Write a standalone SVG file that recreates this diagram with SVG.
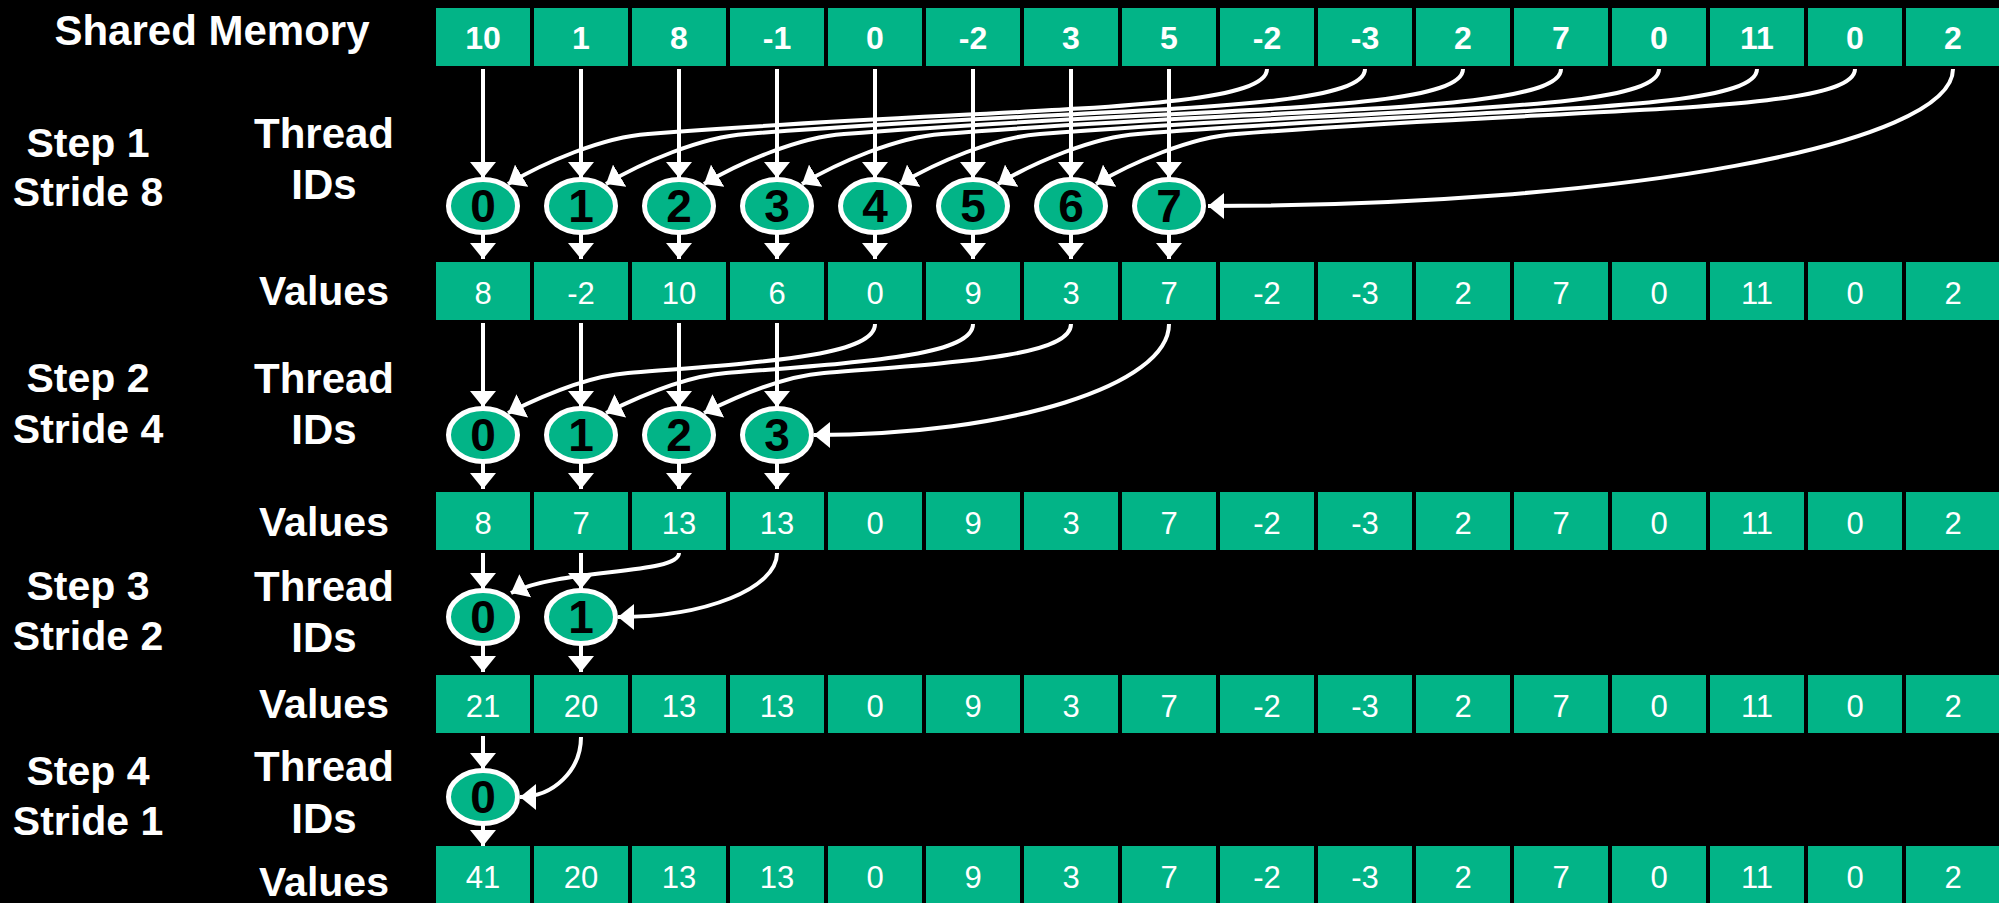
<svg xmlns="http://www.w3.org/2000/svg" width="1999" height="903" viewBox="0 0 1999 903">
<style>
.bg{fill:#000}
.c{fill:#02B487}
.tv{font-family:"Liberation Sans",Arial,sans-serif;font-size:31px;fill:#fff;text-anchor:middle}
.ts{font-family:"Liberation Sans",Arial,sans-serif;font-size:32px;font-weight:bold;fill:#fff;text-anchor:middle}
.n{fill:#02B487;stroke:#fff;stroke-width:5}
.nt{font-family:"Liberation Sans",Arial,sans-serif;font-size:46px;font-weight:bold;fill:#000;text-anchor:middle}
.lb{font-family:"Liberation Sans",Arial,sans-serif;font-size:42px;font-weight:bold;fill:#fff;text-anchor:middle}
.ls{font-family:"Liberation Sans",Arial,sans-serif;font-size:41px;font-weight:bold;fill:#fff;text-anchor:middle}
.a{fill:none;stroke:#fff;stroke-width:4;marker-end:url(#ah)}
</style>
<defs>
<marker id="ah" viewBox="0 0 16 26" markerWidth="16" markerHeight="26" refX="16" refY="13" orient="auto" markerUnits="userSpaceOnUse"><path d="M0,0 L16,13 L0,26 Z" fill="#fff"/></marker>
</defs>
<rect class="bg" x="0" y="0" width="1999" height="903"/>

<g id="labels">
<text class="lb" x="212" y="45">Shared Memory</text>
<text class="ls" x="88" y="157">Step 1</text>
<text class="ls" x="88" y="206">Stride 8</text>
<text class="lb" x="324" y="148">Thread</text>
<text class="lb" x="324" y="199">IDs</text>
<text class="ls" x="324" y="305">Values</text>
<text class="ls" x="88" y="392">Step 2</text>
<text class="ls" x="88" y="443">Stride 4</text>
<text class="lb" x="324" y="393">Thread</text>
<text class="lb" x="324" y="444">IDs</text>
<text class="ls" x="324" y="536">Values</text>
<text class="ls" x="88" y="600">Step 3</text>
<text class="ls" x="88" y="650">Stride 2</text>
<text class="lb" x="324" y="601">Thread</text>
<text class="lb" x="324" y="652">IDs</text>
<text class="ls" x="324" y="718">Values</text>
<text class="ls" x="88" y="785">Step 4</text>
<text class="ls" x="88" y="835">Stride 1</text>
<text class="lb" x="324" y="781">Thread</text>
<text class="lb" x="324" y="833">IDs</text>
<text class="ls" x="324" y="896">Values</text>
</g>

<g id="shared-memory">
<g id="sm-0"><rect class="c" x="436" y="8" width="94" height="58"/><text class="ts" x="483" y="49">10</text></g>
<g id="sm-1"><rect class="c" x="534" y="8" width="94" height="58"/><text class="ts" x="581" y="49">1</text></g>
<g id="sm-2"><rect class="c" x="632" y="8" width="94" height="58"/><text class="ts" x="679" y="49">8</text></g>
<g id="sm-3"><rect class="c" x="730" y="8" width="94" height="58"/><text class="ts" x="777" y="49">-1</text></g>
<g id="sm-4"><rect class="c" x="828" y="8" width="94" height="58"/><text class="ts" x="875" y="49">0</text></g>
<g id="sm-5"><rect class="c" x="926" y="8" width="94" height="58"/><text class="ts" x="973" y="49">-2</text></g>
<g id="sm-6"><rect class="c" x="1024" y="8" width="94" height="58"/><text class="ts" x="1071" y="49">3</text></g>
<g id="sm-7"><rect class="c" x="1122" y="8" width="94" height="58"/><text class="ts" x="1169" y="49">5</text></g>
<g id="sm-8"><rect class="c" x="1220" y="8" width="94" height="58"/><text class="ts" x="1267" y="49">-2</text></g>
<g id="sm-9"><rect class="c" x="1318" y="8" width="94" height="58"/><text class="ts" x="1365" y="49">-3</text></g>
<g id="sm-10"><rect class="c" x="1416" y="8" width="94" height="58"/><text class="ts" x="1463" y="49">2</text></g>
<g id="sm-11"><rect class="c" x="1514" y="8" width="94" height="58"/><text class="ts" x="1561" y="49">7</text></g>
<g id="sm-12"><rect class="c" x="1612" y="8" width="94" height="58"/><text class="ts" x="1659" y="49">0</text></g>
<g id="sm-13"><rect class="c" x="1710" y="8" width="94" height="58"/><text class="ts" x="1757" y="49">11</text></g>
<g id="sm-14"><rect class="c" x="1808" y="8" width="94" height="58"/><text class="ts" x="1855" y="49">0</text></g>
<g id="sm-15"><rect class="c" x="1906" y="8" width="94" height="58"/><text class="ts" x="1953" y="49">2</text></g>
</g>

<g id="values-1">
<g id="v1-0"><rect class="c" x="436" y="262" width="94" height="58"/><text class="tv" x="483" y="304">8</text></g>
<g id="v1-1"><rect class="c" x="534" y="262" width="94" height="58"/><text class="tv" x="581" y="304">-2</text></g>
<g id="v1-2"><rect class="c" x="632" y="262" width="94" height="58"/><text class="tv" x="679" y="304">10</text></g>
<g id="v1-3"><rect class="c" x="730" y="262" width="94" height="58"/><text class="tv" x="777" y="304">6</text></g>
<g id="v1-4"><rect class="c" x="828" y="262" width="94" height="58"/><text class="tv" x="875" y="304">0</text></g>
<g id="v1-5"><rect class="c" x="926" y="262" width="94" height="58"/><text class="tv" x="973" y="304">9</text></g>
<g id="v1-6"><rect class="c" x="1024" y="262" width="94" height="58"/><text class="tv" x="1071" y="304">3</text></g>
<g id="v1-7"><rect class="c" x="1122" y="262" width="94" height="58"/><text class="tv" x="1169" y="304">7</text></g>
<g id="v1-8"><rect class="c" x="1220" y="262" width="94" height="58"/><text class="tv" x="1267" y="304">-2</text></g>
<g id="v1-9"><rect class="c" x="1318" y="262" width="94" height="58"/><text class="tv" x="1365" y="304">-3</text></g>
<g id="v1-10"><rect class="c" x="1416" y="262" width="94" height="58"/><text class="tv" x="1463" y="304">2</text></g>
<g id="v1-11"><rect class="c" x="1514" y="262" width="94" height="58"/><text class="tv" x="1561" y="304">7</text></g>
<g id="v1-12"><rect class="c" x="1612" y="262" width="94" height="58"/><text class="tv" x="1659" y="304">0</text></g>
<g id="v1-13"><rect class="c" x="1710" y="262" width="94" height="58"/><text class="tv" x="1757" y="304">11</text></g>
<g id="v1-14"><rect class="c" x="1808" y="262" width="94" height="58"/><text class="tv" x="1855" y="304">0</text></g>
<g id="v1-15"><rect class="c" x="1906" y="262" width="94" height="58"/><text class="tv" x="1953" y="304">2</text></g>
</g>

<g id="values-2">
<g id="v2-0"><rect class="c" x="436" y="492" width="94" height="58"/><text class="tv" x="483" y="534">8</text></g>
<g id="v2-1"><rect class="c" x="534" y="492" width="94" height="58"/><text class="tv" x="581" y="534">7</text></g>
<g id="v2-2"><rect class="c" x="632" y="492" width="94" height="58"/><text class="tv" x="679" y="534">13</text></g>
<g id="v2-3"><rect class="c" x="730" y="492" width="94" height="58"/><text class="tv" x="777" y="534">13</text></g>
<g id="v2-4"><rect class="c" x="828" y="492" width="94" height="58"/><text class="tv" x="875" y="534">0</text></g>
<g id="v2-5"><rect class="c" x="926" y="492" width="94" height="58"/><text class="tv" x="973" y="534">9</text></g>
<g id="v2-6"><rect class="c" x="1024" y="492" width="94" height="58"/><text class="tv" x="1071" y="534">3</text></g>
<g id="v2-7"><rect class="c" x="1122" y="492" width="94" height="58"/><text class="tv" x="1169" y="534">7</text></g>
<g id="v2-8"><rect class="c" x="1220" y="492" width="94" height="58"/><text class="tv" x="1267" y="534">-2</text></g>
<g id="v2-9"><rect class="c" x="1318" y="492" width="94" height="58"/><text class="tv" x="1365" y="534">-3</text></g>
<g id="v2-10"><rect class="c" x="1416" y="492" width="94" height="58"/><text class="tv" x="1463" y="534">2</text></g>
<g id="v2-11"><rect class="c" x="1514" y="492" width="94" height="58"/><text class="tv" x="1561" y="534">7</text></g>
<g id="v2-12"><rect class="c" x="1612" y="492" width="94" height="58"/><text class="tv" x="1659" y="534">0</text></g>
<g id="v2-13"><rect class="c" x="1710" y="492" width="94" height="58"/><text class="tv" x="1757" y="534">11</text></g>
<g id="v2-14"><rect class="c" x="1808" y="492" width="94" height="58"/><text class="tv" x="1855" y="534">0</text></g>
<g id="v2-15"><rect class="c" x="1906" y="492" width="94" height="58"/><text class="tv" x="1953" y="534">2</text></g>
</g>

<g id="values-3">
<g id="v3-0"><rect class="c" x="436" y="675" width="94" height="58"/><text class="tv" x="483" y="717">21</text></g>
<g id="v3-1"><rect class="c" x="534" y="675" width="94" height="58"/><text class="tv" x="581" y="717">20</text></g>
<g id="v3-2"><rect class="c" x="632" y="675" width="94" height="58"/><text class="tv" x="679" y="717">13</text></g>
<g id="v3-3"><rect class="c" x="730" y="675" width="94" height="58"/><text class="tv" x="777" y="717">13</text></g>
<g id="v3-4"><rect class="c" x="828" y="675" width="94" height="58"/><text class="tv" x="875" y="717">0</text></g>
<g id="v3-5"><rect class="c" x="926" y="675" width="94" height="58"/><text class="tv" x="973" y="717">9</text></g>
<g id="v3-6"><rect class="c" x="1024" y="675" width="94" height="58"/><text class="tv" x="1071" y="717">3</text></g>
<g id="v3-7"><rect class="c" x="1122" y="675" width="94" height="58"/><text class="tv" x="1169" y="717">7</text></g>
<g id="v3-8"><rect class="c" x="1220" y="675" width="94" height="58"/><text class="tv" x="1267" y="717">-2</text></g>
<g id="v3-9"><rect class="c" x="1318" y="675" width="94" height="58"/><text class="tv" x="1365" y="717">-3</text></g>
<g id="v3-10"><rect class="c" x="1416" y="675" width="94" height="58"/><text class="tv" x="1463" y="717">2</text></g>
<g id="v3-11"><rect class="c" x="1514" y="675" width="94" height="58"/><text class="tv" x="1561" y="717">7</text></g>
<g id="v3-12"><rect class="c" x="1612" y="675" width="94" height="58"/><text class="tv" x="1659" y="717">0</text></g>
<g id="v3-13"><rect class="c" x="1710" y="675" width="94" height="58"/><text class="tv" x="1757" y="717">11</text></g>
<g id="v3-14"><rect class="c" x="1808" y="675" width="94" height="58"/><text class="tv" x="1855" y="717">0</text></g>
<g id="v3-15"><rect class="c" x="1906" y="675" width="94" height="58"/><text class="tv" x="1953" y="717">2</text></g>
</g>

<g id="values-4">
<g id="v4-0"><rect class="c" x="436" y="846" width="94" height="58"/><text class="tv" x="483" y="888">41</text></g>
<g id="v4-1"><rect class="c" x="534" y="846" width="94" height="58"/><text class="tv" x="581" y="888">20</text></g>
<g id="v4-2"><rect class="c" x="632" y="846" width="94" height="58"/><text class="tv" x="679" y="888">13</text></g>
<g id="v4-3"><rect class="c" x="730" y="846" width="94" height="58"/><text class="tv" x="777" y="888">13</text></g>
<g id="v4-4"><rect class="c" x="828" y="846" width="94" height="58"/><text class="tv" x="875" y="888">0</text></g>
<g id="v4-5"><rect class="c" x="926" y="846" width="94" height="58"/><text class="tv" x="973" y="888">9</text></g>
<g id="v4-6"><rect class="c" x="1024" y="846" width="94" height="58"/><text class="tv" x="1071" y="888">3</text></g>
<g id="v4-7"><rect class="c" x="1122" y="846" width="94" height="58"/><text class="tv" x="1169" y="888">7</text></g>
<g id="v4-8"><rect class="c" x="1220" y="846" width="94" height="58"/><text class="tv" x="1267" y="888">-2</text></g>
<g id="v4-9"><rect class="c" x="1318" y="846" width="94" height="58"/><text class="tv" x="1365" y="888">-3</text></g>
<g id="v4-10"><rect class="c" x="1416" y="846" width="94" height="58"/><text class="tv" x="1463" y="888">2</text></g>
<g id="v4-11"><rect class="c" x="1514" y="846" width="94" height="58"/><text class="tv" x="1561" y="888">7</text></g>
<g id="v4-12"><rect class="c" x="1612" y="846" width="94" height="58"/><text class="tv" x="1659" y="888">0</text></g>
<g id="v4-13"><rect class="c" x="1710" y="846" width="94" height="58"/><text class="tv" x="1757" y="888">11</text></g>
<g id="v4-14"><rect class="c" x="1808" y="846" width="94" height="58"/><text class="tv" x="1855" y="888">0</text></g>
<g id="v4-15"><rect class="c" x="1906" y="846" width="94" height="58"/><text class="tv" x="1953" y="888">2</text></g>
</g>

<g id="connectors">
<path class="a" d="M483 69 V178"/>
<path class="a" d="M581 69 V178"/>
<path class="a" d="M679 69 V178"/>
<path class="a" d="M777 69 V178"/>
<path class="a" d="M875 69 V178"/>
<path class="a" d="M973 69 V178"/>
<path class="a" d="M1071 69 V178"/>
<path class="a" d="M1169 69 V178"/>
<path class="a" d="M1267 69 C1267 114 988.5 106.8 648 134 C603 137 543 163 508 184"/>
<path class="a" d="M1365 69 C1365 114 1086.5 106.8 746 134 C701 137 641 163 606 184"/>
<path class="a" d="M1463 69 C1463 114 1184.5 106.8 844 134 C799 137 739 163 704 184"/>
<path class="a" d="M1561 69 C1561 114 1282.5 106.8 942 134 C897 137 837 163 802 184"/>
<path class="a" d="M1659 69 C1659 114 1380.5 106.8 1040 134 C995 137 935 163 900 184"/>
<path class="a" d="M1757 69 C1757 114 1478.5 106.8 1138 134 C1093 137 1033 163 998 184"/>
<path class="a" d="M1855 69 C1855 114 1576.5 106.8 1236 134 C1191 137 1131 163 1096 184"/>
<path class="a" d="M1953 69 C1953 144.7 1619.9 206 1208 206"/>
<path class="a" d="M483 234 V259"/>
<path class="a" d="M581 234 V259"/>
<path class="a" d="M679 234 V259"/>
<path class="a" d="M777 234 V259"/>
<path class="a" d="M875 234 V259"/>
<path class="a" d="M973 234 V259"/>
<path class="a" d="M1071 234 V259"/>
<path class="a" d="M1169 234 V259"/>
<path class="a" d="M483 323 V407"/>
<path class="a" d="M581 323 V407"/>
<path class="a" d="M679 323 V407"/>
<path class="a" d="M777 323 V407"/>
<path class="a" d="M875 324 C875 356 763.9 362.1 628 373 C588 376 540 397 508 413"/>
<path class="a" d="M973 324 C973 356 861.9 362.1 726 373 C686 376 638 397 606 413"/>
<path class="a" d="M1071 324 C1071 356 959.9 362.1 824 373 C784 376 736 397 704 413"/>
<path class="a" d="M1169 324 C1169 385.3 1010.1 435 814 435"/>
<path class="a" d="M483 463 V489"/>
<path class="a" d="M581 463 V489"/>
<path class="a" d="M679 463 V489"/>
<path class="a" d="M777 463 V489"/>
<path class="a" d="M483 553 V589"/>
<path class="a" d="M581 553 V589"/>
<path class="a" d="M679 553 C679 575 560 568 511 593"/>
<path class="a" d="M777 553 C777 588.3 705.8 617 618 617"/>
<path class="a" d="M483 645 V672"/>
<path class="a" d="M581 645 V672"/>
<path class="a" d="M483 736 V769"/>
<path class="a" d="M581 737 C581 770.1 553.7 797 520 797"/>
<path class="a" d="M483 825 V846"/>
</g>

<g id="threads-1">
<g id="t1-0"><ellipse class="n" cx="483" cy="206" rx="34.5" ry="26.5"/><text class="nt" x="483" y="222">0</text></g>
<g id="t1-1"><ellipse class="n" cx="581" cy="206" rx="34.5" ry="26.5"/><text class="nt" x="581" y="222">1</text></g>
<g id="t1-2"><ellipse class="n" cx="679" cy="206" rx="34.5" ry="26.5"/><text class="nt" x="679" y="222">2</text></g>
<g id="t1-3"><ellipse class="n" cx="777" cy="206" rx="34.5" ry="26.5"/><text class="nt" x="777" y="222">3</text></g>
<g id="t1-4"><ellipse class="n" cx="875" cy="206" rx="34.5" ry="26.5"/><text class="nt" x="875" y="222">4</text></g>
<g id="t1-5"><ellipse class="n" cx="973" cy="206" rx="34.5" ry="26.5"/><text class="nt" x="973" y="222">5</text></g>
<g id="t1-6"><ellipse class="n" cx="1071" cy="206" rx="34.5" ry="26.5"/><text class="nt" x="1071" y="222">6</text></g>
<g id="t1-7"><ellipse class="n" cx="1169" cy="206" rx="34.5" ry="26.5"/><text class="nt" x="1169" y="222">7</text></g>
</g>
<g id="threads-2">
<g id="t2-0"><ellipse class="n" cx="483" cy="435" rx="34.5" ry="26.5"/><text class="nt" x="483" y="451">0</text></g>
<g id="t2-1"><ellipse class="n" cx="581" cy="435" rx="34.5" ry="26.5"/><text class="nt" x="581" y="451">1</text></g>
<g id="t2-2"><ellipse class="n" cx="679" cy="435" rx="34.5" ry="26.5"/><text class="nt" x="679" y="451">2</text></g>
<g id="t2-3"><ellipse class="n" cx="777" cy="435" rx="34.5" ry="26.5"/><text class="nt" x="777" y="451">3</text></g>
</g>
<g id="threads-3">
<g id="t3-0"><ellipse class="n" cx="483" cy="617" rx="34.5" ry="26.5"/><text class="nt" x="483" y="633">0</text></g>
<g id="t3-1"><ellipse class="n" cx="581" cy="617" rx="34.5" ry="26.5"/><text class="nt" x="581" y="633">1</text></g>
</g>
<g id="threads-4">
<g id="t4-0"><ellipse class="n" cx="483" cy="797" rx="34.5" ry="26.5"/><text class="nt" x="483" y="813">0</text></g>
</g>
</svg>
